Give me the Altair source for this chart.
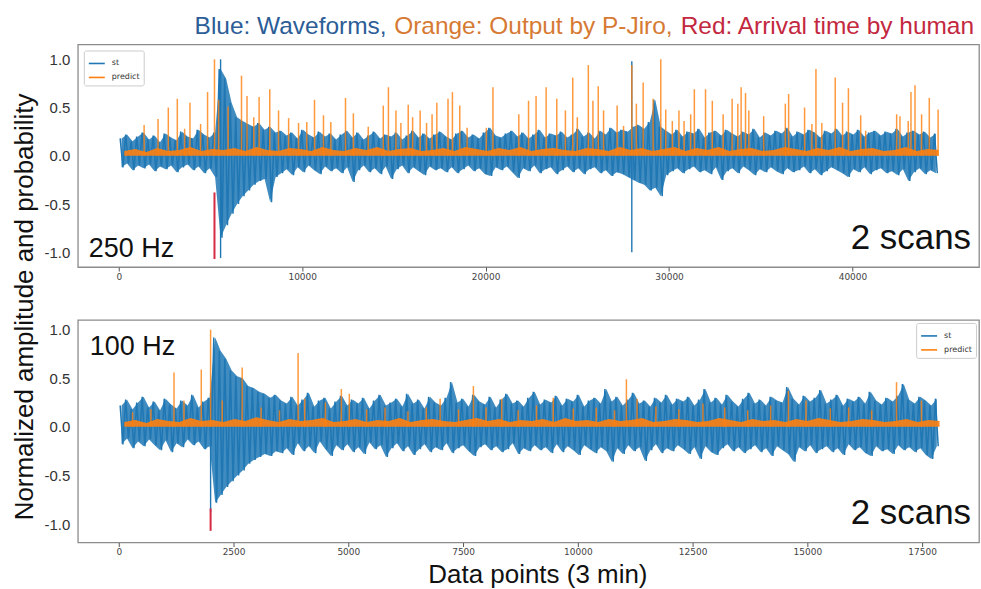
import altair as alt
import numpy as np
import pandas as pd

# ---------------- 250 Hz record (top panel) ----------------
# waveform extremes, one max/min pair per 300-sample window
TOP_STEP = 300
TOP_HI = [
    0.18, 0.22, 0.15, 0.20, 0.24, 0.17, 0.21, 0.14, 0.23, 0.19,
    0.16, 0.25, 0.20, 0.18, 0.27, 0.22, 0.19, 0.24, 0.90, 0.80,
    0.55, 0.40, 0.36, 0.33, 0.30, 0.34, 0.27, 0.30, 0.24, 0.26,
    0.21, 0.24, 0.18, 0.27, 0.22, 0.19, 0.25, 0.20, 0.23, 0.17,
    0.22, 0.26, 0.19, 0.24, 0.17, 0.21, 0.25, 0.18, 0.22, 0.20,
    0.24, 0.17, 0.21, 0.26, 0.19, 0.23, 0.18, 0.22, 0.25, 0.20,
    0.17, 0.23, 0.26, 0.19, 0.22, 0.18, 0.24, 0.29, 0.21, 0.19,
    0.23, 0.26, 0.20, 0.24, 0.18, 0.22, 0.27, 0.19, 0.23, 0.21,
    0.25, 0.19, 0.22, 0.28, 0.20, 0.24, 0.18, 0.26, 0.22, 0.29,
    0.24, 0.27, 0.25, 0.30, 0.32, 0.28, 0.35, 0.58, 0.30, 0.26,
    0.22, 0.27, 0.20, 0.25, 0.23, 0.28, 0.19, 0.24, 0.26, 0.21,
    0.27, 0.23, 0.20, 0.25, 0.22, 0.28, 0.19, 0.24, 0.21, 0.26,
    0.23, 0.29, 0.20, 0.25, 0.22, 0.27, 0.24, 0.19, 0.26, 0.23,
    0.28, 0.21, 0.25, 0.22, 0.27, 0.20, 0.24, 0.26, 0.21, 0.25,
    0.23, 0.28, 0.20, 0.24, 0.26, 0.22, 0.25, 0.19, 0.23,
]
TOP_LO = [
    -0.12, -0.08, -0.15, -0.10, -0.13, -0.09, -0.16, -0.11, -0.14, -0.10,
    -0.17, -0.12, -0.09, -0.15, -0.11, -0.18, -0.13, -0.22, -0.85, -0.72,
    -0.60, -0.50, -0.42, -0.36, -0.30, -0.26, -0.24, -0.48, -0.22, -0.18,
    -0.14, -0.20, -0.12, -0.17, -0.10, -0.15, -0.19, -0.11, -0.16, -0.13,
    -0.18, -0.12, -0.27, -0.15, -0.10, -0.17, -0.13, -0.19, -0.11, -0.24,
    -0.14, -0.10, -0.18, -0.12, -0.16, -0.20, -0.11, -0.15, -0.13, -0.17,
    -0.12, -0.18, -0.14, -0.10, -0.16, -0.13, -0.19, -0.21, -0.12, -0.15,
    -0.11, -0.17, -0.23, -0.13, -0.16, -0.10, -0.18, -0.14, -0.12, -0.19,
    -0.15, -0.11, -0.17, -0.13, -0.19, -0.14, -0.12, -0.18, -0.15, -0.21,
    -0.17, -0.19, -0.22, -0.25, -0.28, -0.30, -0.36, -0.33, -0.42, -0.20,
    -0.16, -0.13, -0.18, -0.14, -0.11, -0.17, -0.15, -0.19, -0.12, -0.25,
    -0.16, -0.13, -0.18, -0.11, -0.15, -0.20, -0.14, -0.17, -0.12, -0.16,
    -0.19, -0.13, -0.17, -0.15, -0.11, -0.18, -0.14, -0.20, -0.16, -0.12,
    -0.15, -0.18, -0.22, -0.14, -0.17, -0.12, -0.19, -0.15, -0.13, -0.18,
    -0.16, -0.20, -0.14, -0.26, -0.17, -0.13, -0.19, -0.15, -0.18,
]
# single-sample excursions of the trace
TOP_SPIKE_X = [5550, 27970]
TOP_SPIKE_LO = [-1.06, -1.00]
TOP_SPIKE_HI = [1.00, 0.98]
# P-Jiro output: background level per 600 samples, and its peaks
TOP_BASE_STEP = 600
TOP_BASE = [
    0.05, 0.07, 0.04, 0.08, 0.05, 0.06, 0.09, 0.05, 0.07, 0.06,
    0.08, 0.05, 0.09, 0.06, 0.05, 0.08, 0.07, 0.05, 0.09, 0.06,
    0.05, 0.08, 0.06, 0.09, 0.05, 0.07, 0.08, 0.05, 0.06, 0.08,
    0.05, 0.09, 0.07, 0.05, 0.08, 0.06, 0.09, 0.05, 0.07, 0.08,
    0.06, 0.05, 0.08, 0.07, 0.05, 0.09, 0.06, 0.08, 0.05, 0.07,
    0.09, 0.05, 0.08, 0.06, 0.09, 0.05, 0.07, 0.08, 0.05, 0.06,
    0.09, 0.07, 0.05, 0.08, 0.06, 0.09, 0.05, 0.07, 0.08, 0.05,
    0.06, 0.09, 0.05, 0.07, 0.06,
]
TOP_PEAK_X = [
    1380, 2140, 2700, 3190, 3590, 3880, 4460, 4840, 5217, 5440,
    5960, 6690, 6990, 7360, 7650, 8230, 8710, 9260, 9800, 10250,
    10670, 11160, 11560, 12360, 12790, 13600, 14420, 14700, 15110, 15380,
    15780, 16020, 16430, 16780, 17080, 17340, 17950, 18190, 18590, 18990,
    20040, 20400, 21810, 22340, 22750, 23300, 23880, 24350, 24750, 25000,
    25600, 25850, 26140, 26430, 27170, 27520, 27970, 28220, 28590, 29130,
    29550, 29820, 30180, 30540, 30820, 31180, 31380, 31990, 32360, 32950,
    33440, 33750, 33930, 34170, 34350, 35160, 36340, 36520, 37390, 37790,
    38010, 38330, 39060, 39460, 39780, 40450, 40720, 42410, 42590, 43040,
    43190, 43410, 43770, 44190, 44670,
]
TOP_PEAK_Y = [
    0.32, 0.38, 0.50, 0.59, 0.28, 0.55, 0.33, 0.66, 1.00, 0.58,
    0.51, 0.83, 0.62, 0.40, 0.61, 0.69, 0.47, 0.39, 0.34, 0.35,
    0.58, 0.42, 0.35, 0.60, 0.44, 0.30, 0.52, 0.71, 0.47, 0.34,
    0.53, 0.40, 0.47, 0.34, 0.43, 0.55, 0.59, 0.66, 0.52, 0.29,
    0.29, 0.71, 0.43, 0.57, 0.62, 0.71, 0.59, 0.47, 0.81, 0.40,
    0.94, 0.57, 0.72, 0.47, 0.52, 0.31, 0.94, 0.54, 0.76, 0.59,
    1.00, 0.48, 0.36, 0.47, 0.36, 0.43, 0.69, 0.69, 0.57, 0.43,
    0.59, 0.54, 0.71, 0.65, 0.47, 0.41, 0.54, 0.64, 0.50, 0.33,
    0.90, 0.34, 0.81, 0.55, 0.70, 0.42, 0.26, 0.43, 0.41, 0.36,
    0.66, 0.73, 0.43, 0.60, 0.48,
]
# arrival time picked by hand
TOP_PICK_X = [5217]
TOP_PICK_LO = [-1.07]
TOP_PICK_HI = [-0.38]
TOP_TICKS = [0, 10000, 20000, 30000, 40000]

# ---------------- 100 Hz record (bottom panel) ----------------
BOT_STEP = 120
BOT_HI = [
    0.22, 0.28, 0.18, 0.25, 0.31, 0.20, 0.26, 0.17, 0.29, 0.23,
    0.19, 0.27, 0.22, 0.33, 0.20, 0.26, 0.30, 0.92, 0.78, 0.70,
    0.58, 0.52, 0.50, 0.42, 0.40, 0.36, 0.34, 0.30, 0.33, 0.27,
    0.24, 0.31, 0.22, 0.28, 0.35, 0.21, 0.27, 0.30, 0.19, 0.26,
    0.32, 0.22, 0.28, 0.24, 0.30, 0.19, 0.27, 0.33, 0.22, 0.25,
    0.29, 0.21, 0.34, 0.24, 0.28, 0.19, 0.31, 0.25, 0.22, 0.30,
    0.46, 0.25, 0.29, 0.21, 0.33, 0.26, 0.23, 0.31, 0.20, 0.28,
    0.34, 0.24, 0.27, 0.21, 0.30, 0.36, 0.23, 0.28, 0.25, 0.32,
    0.22, 0.29, 0.26, 0.33, 0.21, 0.27, 0.30, 0.24, 0.39, 0.26,
    0.31, 0.22, 0.28, 0.35, 0.24, 0.27, 0.21, 0.30, 0.25, 0.33,
    0.23, 0.29, 0.26, 0.31, 0.22, 0.28, 0.39, 0.25, 0.30, 0.23,
    0.33, 0.26, 0.21, 0.29, 0.35, 0.24, 0.28, 0.22, 0.31, 0.27,
    0.25, 0.41, 0.29, 0.23, 0.32, 0.26, 0.30, 0.38, 0.24, 0.28,
    0.33, 0.22, 0.29, 0.26, 0.31, 0.24, 0.36, 0.27, 0.23, 0.30,
    0.26, 0.32, 0.44, 0.28, 0.24, 0.31, 0.27, 0.22, 0.29,
]
BOT_LO = [
    -0.18, -0.12, -0.22, -0.15, -0.20, -0.13, -0.19, -0.24, -0.14, -0.26,
    -0.17, -0.21, -0.13, -0.19, -0.15, -0.23, -0.20, -0.78, -0.70, -0.62,
    -0.56, -0.50, -0.45, -0.38, -0.34, -0.31, -0.28, -0.30, -0.25, -0.27,
    -0.22, -0.29, -0.17, -0.25, -0.20, -0.27, -0.15, -0.23, -0.30, -0.19,
    -0.24, -0.18, -0.26, -0.21, -0.28, -0.16, -0.23, -0.19, -0.31, -0.22,
    -0.17, -0.25, -0.20, -0.29, -0.23, -0.18, -0.26, -0.21, -0.24, -0.17,
    -0.27, -0.22, -0.19, -0.25, -0.30, -0.21, -0.18, -0.24, -0.20, -0.26,
    -0.23, -0.17, -0.28, -0.22, -0.25, -0.19, -0.24, -0.21, -0.27, -0.18,
    -0.26, -0.20, -0.24, -0.29, -0.19, -0.23, -0.27, -0.21, -0.25, -0.36,
    -0.22, -0.28, -0.19, -0.25, -0.21, -0.35, -0.24, -0.18, -0.27, -0.22,
    -0.25, -0.19, -0.23, -0.28, -0.21, -0.33, -0.20, -0.26, -0.29, -0.22,
    -0.18, -0.25, -0.21, -0.27, -0.23, -0.19, -0.26, -0.22, -0.30, -0.20,
    -0.24, -0.28, -0.36, -0.21, -0.25, -0.19, -0.27, -0.23, -0.20, -0.26,
    -0.22, -0.29, -0.18, -0.24, -0.21, -0.27, -0.30, -0.20, -0.25, -0.23,
    -0.28, -0.19, -0.24, -0.21, -0.26, -0.22, -0.29, -0.33, -0.20,
]
BOT_SPIKE_X = [2000]
BOT_SPIKE_LO = [-0.88]
BOT_SPIKE_HI = [0.35]
BOT_BASE_STEP = 240
BOT_BASE = [
    0.05, 0.07, 0.04, 0.08, 0.06, 0.05, 0.09, 0.06, 0.07, 0.05,
    0.08, 0.06, 0.10, 0.07, 0.05, 0.08, 0.06, 0.07, 0.09, 0.05,
    0.06, 0.08, 0.05, 0.07, 0.06, 0.09, 0.05, 0.07, 0.08, 0.06,
    0.05, 0.07, 0.09, 0.06, 0.08, 0.05, 0.07, 0.06, 0.08, 0.05,
    0.09, 0.06, 0.07, 0.05, 0.08, 0.06, 0.07, 0.09, 0.05, 0.06,
    0.08, 0.07, 0.05, 0.06, 0.09, 0.07, 0.05, 0.08, 0.06, 0.07,
    0.05, 0.08, 0.06, 0.09, 0.07, 0.05, 0.06, 0.08, 0.07, 0.05,
    0.06, 0.08, 0.05, 0.07, 0.06,
]
BOT_PEAK_X = [
    300, 700, 1203, 1420, 1797, 2000, 2253, 2688, 3100, 3500,
    3906, 4050, 4500, 4848, 5022, 5400, 5800, 6300, 6700, 7000,
    7400, 7725, 8000, 8341, 8700, 9100, 9464, 9900, 10400, 10800,
    11058, 11290, 11700, 12200, 12725, 13200, 13700, 14200, 14587, 14971,
    15500, 15900, 16400, 16942, 17486,
]
BOT_PEAK_Y = [
    0.15, 0.18, 0.56, 0.27, 0.59, 1.00, 0.27, 0.61, 0.20, 0.17,
    0.76, 0.29, 0.25, 0.39, 0.34, 0.18, 0.20, 0.16, 0.20, 0.29,
    0.18, 0.42, 0.20, 0.29, 0.17, 0.22, 0.30, 0.19, 0.20, 0.17,
    0.49, 0.29, 0.21, 0.18, 0.24, 0.20, 0.17, 0.22, 0.37, 0.27,
    0.19, 0.20, 0.17, 0.46, 0.27,
]
BOT_PICK_X = [2000]
BOT_PICK_LO = [-1.07]
BOT_PICK_HI = [-0.84]
BOT_TICKS = [0, 2500, 5000, 7500, 10000, 12500, 15000, 17500]

SERIES = ["st", "predict"]
SERIES_COLORS = ["#1f77b4", "#ff7f0e"]
PICK_COLOR = "#d62a45"

PLOT_W = 903
PLOT_H = 223
LABEL_FONT = "Liberation Sans"
SMALL_FONT = "DejaVu Sans"


def text_layer(label, x, y, size, color="#111111", align="left", angle=0,
               font=LABEL_FONT):
    return alt.Chart(pd.DataFrame({"label": [label]})).mark_text(
        align=align, baseline="alphabetic", fontSize=size, font=font,
        color=color, angle=angle,
    ).encode(x=alt.value(x), y=alt.value(y), text="label:N")


def zigzag(step, hi, lo):
    """Trace drawn through each window's maximum, then its minimum."""
    samples, values = [], []
    for i, (h, l) in enumerate(zip(hi, lo)):
        samples += [i * step + 0.25 * step, i * step + 0.75 * step]
        values += [h, l]
    return pd.DataFrame({"sample": samples, "amp": values, "series": "st"})


def panel(step, hi, lo, spike_x, spike_lo, spike_hi, base_step, base,
          peak_x, peak_y, pick_x, pick_lo, pick_hi, x_domain, y_domain,
          ticks, legend_orient, legend_offset):
    wave = zigzag(step, hi, lo)
    band = pd.DataFrame({
        "sample": np.arange(len(hi)) * step + step / 2,
        "hi": hi, "lo": lo, "series": "st",
    })
    spikes = pd.DataFrame({"sample": spike_x, "lo": spike_lo,
                           "hi": spike_hi, "series": "st"})
    prob = pd.DataFrame({
        "sample": np.arange(len(base)) * base_step + base_step / 2,
        "level": base, "series": "predict",
    })
    peaks = pd.DataFrame({"sample": peak_x, "level": peak_y,
                          "series": "predict"})
    picks = pd.DataFrame({"sample": pick_x, "lo": pick_lo, "hi": pick_hi})

    x_scale = alt.Scale(domain=x_domain, nice=False, zero=False)
    y_scale = alt.Scale(domain=y_domain, nice=False, zero=False)
    x_axis = alt.Axis(
        values=ticks, format="d", title=None, grid=False, domain=False,
        ticks=True, tickSize=4, tickColor="#555555", labelFontSize=9,
        labelFont=SMALL_FONT, labelColor="#444444", labelPadding=1,
        labelFlush=False,
    )
    y_axis = alt.Axis(
        values=[-1.0, -0.5, 0.0, 0.5, 1.0], title=None, grid=False,
        domain=False, ticks=False, labelFontSize=15, labelFont=LABEL_FONT,
        labelColor="#333333", labelPadding=8,
        labelExpr="datum.value < 0 ? '-' + format(-datum.value, '.1f')"
                  " : format(datum.value, '.1f')",
    )
    legend = alt.Legend(
        title=None, orient=legend_orient, offset=legend_offset, padding=4,
        strokeColor="#cccccc", fillColor="white", cornerRadius=2,
        symbolType="stroke", symbolSize=256, symbolStrokeWidth=1.6,
        symbolOpacity=1, labelFontSize=8, labelFont=SMALL_FONT,
        labelColor="#333333", rowPadding=1, labelOffset=6,
    )
    color = alt.Color("series:N",
                      scale=alt.Scale(domain=SERIES, range=SERIES_COLORS),
                      legend=legend)
    x = alt.X("sample:Q", scale=x_scale, axis=x_axis, title=None)

    def y(field):
        return alt.Y(field, type="quantitative", scale=y_scale, axis=y_axis,
                     title=None)

    # dense part of the trace, then the individual swings on top of it
    band_layer = alt.Chart(band).mark_area(
        interpolate="linear", opacity=0.85
    ).encode(x=x, y=y("hi"), y2="lo:Q", color=color)
    wave_layer = alt.Chart(wave).mark_line(
        strokeWidth=1.5, strokeJoin="miter"
    ).encode(x=x, y=y("amp"), color=color, order="sample:Q")
    spike_layer = alt.Chart(spikes).mark_rule(strokeWidth=1.4).encode(
        x=x, y=y("lo"), y2="hi:Q", color=color,
    )
    base_layer = alt.Chart(prob).mark_area(
        interpolate="linear", opacity=0.9
    ).encode(x=x, y=y("level"), y2=alt.datum(0.0), color=color)
    peak_layer = alt.Chart(peaks).mark_rule(
        strokeWidth=1.5, opacity=0.8
    ).encode(x=x, y=y("level"), y2=alt.datum(0.0), color=color)
    pick_layer = alt.Chart(picks).mark_rule(
        strokeWidth=2, color=PICK_COLOR
    ).encode(x=x, y=y("lo"), y2="hi:Q")
    return [band_layer, wave_layer, spike_layer, base_layer, peak_layer,
            pick_layer]


top_layers = panel(
    TOP_STEP, TOP_HI, TOP_LO, TOP_SPIKE_X, TOP_SPIKE_LO, TOP_SPIKE_HI,
    TOP_BASE_STEP, TOP_BASE, TOP_PEAK_X, TOP_PEAK_Y,
    TOP_PICK_X, TOP_PICK_LO, TOP_PICK_HI,
    [-2233, 46900], [-1.153, 1.153], TOP_TICKS, "top-left", 6,
)
bot_layers = panel(
    BOT_STEP, BOT_HI, BOT_LO, BOT_SPIKE_X, BOT_SPIKE_LO, BOT_SPIKE_HI,
    BOT_BASE_STEP, BOT_BASE, BOT_PEAK_X, BOT_PEAK_Y,
    BOT_PICK_X, BOT_PICK_LO, BOT_PICK_HI,
    [-892, 18739], [-1.19, 1.10], BOT_TICKS, "top-right", 3,
)

# transparent frame that fixes the overall page extent
page = alt.Chart(pd.DataFrame({"k": [0]})).mark_rect(opacity=0).encode(
    x=alt.value(-77), x2=alt.value(904), y=alt.value(-43), y2=alt.value(546)
)

HEAD_SIZE = 24.5
top = alt.layer(
    *top_layers,
    page,
    text_layer("250 Hz", 11, 213, 27),
    text_layer("2 scans", 895, 205, 35, align="right"),
    text_layer("Blue: Waveforms,", 117, -11, HEAD_SIZE, color="#2c5d97"),
    text_layer("Orange: Output by P-Jiro,", 317, -11, HEAD_SIZE,
               color="#d67a33"),
    text_layer("Red: Arrival time by human", 898, -11, HEAD_SIZE,
               color="#c3283f", align="right"),
).properties(width=PLOT_W, height=PLOT_H)

bottom = alt.layer(
    *bot_layers,
    text_layer("100 Hz", 12, 35, 27),
    text_layer("2 scans", 895, 204, 35, align="right"),
    text_layer("Data points (3 min)", 461, 264, 26, align="center"),
    text_layer("Normalized amplitude and probability", -45, -13, 26,
               align="center", angle=270),
).properties(width=PLOT_W, height=PLOT_H)

chart = alt.vconcat(top, bottom, spacing=53, bounds="flush").resolve_scale(
    color="independent", x="independent", y="independent"
).resolve_legend(color="independent").configure_view(
    stroke="#8c8c8c", strokeWidth=1.3
).properties(padding=0, background="white")

chart.save("out.html", embed_options={"renderer": "svg", "actions": False})
